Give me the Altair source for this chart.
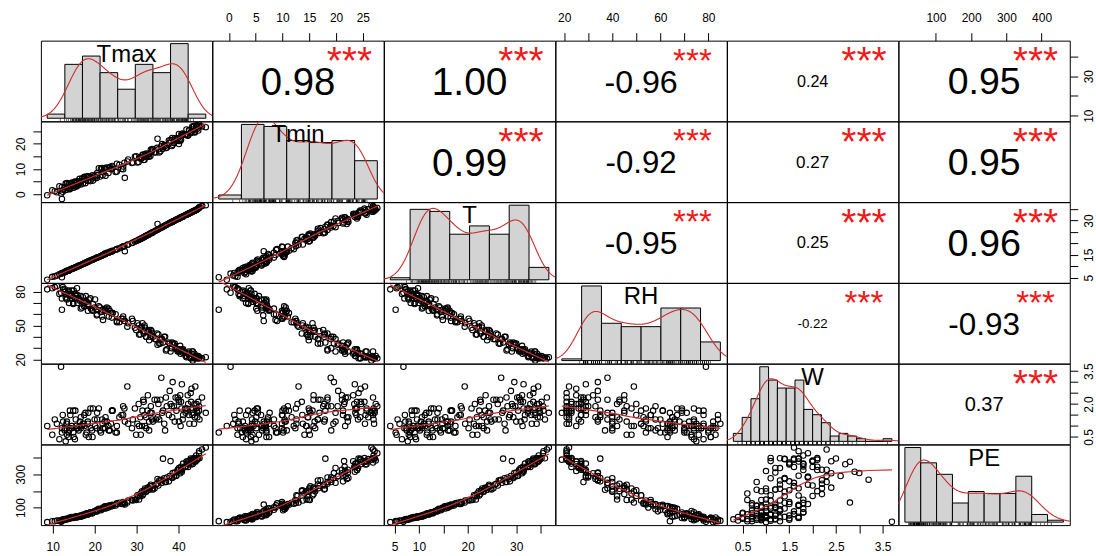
import json

import altair as alt
import numpy as np
import pandas as pd

VARS = ["Tmax", "Tmin", "T", "RH", "W", "PE"]

# Daily records, one list per month. Columns: Tmax, Tmin, T, RH, W, PE
january = [
    (8.7, -0.4, 4.1, 82, 1.0, 12), (12.2, -1.9, 5.2, 64, 0.7, 18), (10.5, 1.2, 5.6, 84, 1.3, 17),
    (12.0, 0.3, 6.8, 79, 3.7, 14), (12.2, 2.9, 7.0, 74, 0.9, 24), (12.9, 1.6, 7.4, 82, 0.9, 30),
    (13.1, 4.2, 7.7, 75, 0.3, 29), (13.3, 1.8, 8.0, 78, 1.1, 30), (13.9, 3.6, 8.3, 70, 0.8, 36),
    (14.2, 3.2, 8.6, 78, 1.5, 36), (14.6, 4.6, 8.9, 74, 1.0, 43), (15.0, 2.6, 9.2, 81, 0.5, 39),
    (15.4, 4.8, 9.5, 78, 1.7, 45), (15.8, 3.7, 9.8, 83, 0.9, 40), (16.5, 4.9, 10.4, 72, 1.2, 51),
]
february = [
    (12.5, 1.8, 7.2, 82, 1.2, 28), (13.4, 4.4, 7.9, 73, 0.6, 30), (14.0, 2.1, 8.4, 77, 0.9, 38),
    (14.5, 4.0, 8.8, 81, 0.9, 38), (14.9, 3.6, 9.1, 69, 1.7, 37), (15.3, 5.0, 9.4, 74, 0.4, 43),
    (15.6, 3.0, 9.7, 76, 1.0, 48), (15.9, 5.1, 9.9, 70, 0.9, 43), (16.2, 4.1, 10.2, 74, 0.8, 47),
    (16.7, 5.1, 10.6, 65, 1.4, 44), (17.2, 4.3, 11.0, 75, 1.1, 56), (17.6, 6.9, 11.3, 72, 1.0, 54),
    (18.1, 7.0, 11.7, 71, 0.7, 65), (18.5, 5.4, 12.1, 69, 1.6, 59), (19.1, 6.9, 12.6, 65, 0.9, 71),
    (19.6, 5.4, 13.0, 69, 1.8, 70), (20.6, 8.4, 13.8, 60, 1.3, 87),
]
march = [
    (17.0, 6.2, 10.8, 66, 1.0, 48), (17.8, 4.4, 11.5, 71, 1.6, 61), (18.6, 7.0, 12.2, 73, 0.5, 64),
    (19.4, 6.2, 12.8, 64, 0.8, 64), (20.0, 7.2, 13.3, 66, 1.3, 79), (20.5, 6.4, 13.7, 59, 0.9, 77),
    (21.0, 10.3, 14.1, 67, 1.8, 92), (21.5, 10.1, 14.5, 62, 0.7, 84), (21.9, 7.5, 14.8, 64, 1.1, 96),
    (22.0, 8.7, 14.9, 55, 0.9, 100), (22.6, 7.3, 15.4, 65, 1.4, 94), (23.4, 10.2, 16.0, 58, 0.8, 112),
    (24.3, 10.6, 16.7, 61, 1.7, 110), (25.3, 12.1, 17.5, 53, 1.0, 123), (26.4, 10.0, 18.3, 56, 1.5, 122),
    (27.2, 6.5, 16.6, 54, 1.2, 118),
]
april = [
    (26.8, 9.9, 18.6, 56, 1.5, 133), (27.8, 13.0, 19.4, 49, 2.8, 130), (28.9, 12.4, 20.2, 56, 0.9, 146),
    (29.6, 14.9, 20.8, 48, 1.8, 147), (30.2, 12.6, 21.3, 52, 1.1, 174), (30.6, 14.5, 21.7, 42, 1.0, 148),
    (31.0, 14.1, 22.0, 48, 0.6, 185), (31.4, 15.6, 22.4, 52, 1.7, 173), (31.7, 13.6, 22.7, 43, 2.1, 199),
    (32.0, 15.8, 23.0, 48, 1.0, 215), (32.3, 14.8, 23.3, 40, 1.4, 196), (32.7, 15.8, 23.7, 45, 2.4, 220),
    (33.0, 14.9, 24.0, 37, 0.8, 207), (33.4, 17.6, 24.4, 46, 1.9, 238), (33.9, 17.8, 24.9, 40, 1.2, 209),
]
may = [
    (33.6, 16.9, 24.6, 45, 1.6, 230), (34.3, 16.7, 25.3, 38, 2.2, 216), (34.9, 18.4, 25.9, 43, 2.2, 244),
    (35.4, 16.6, 26.4, 34, 1.3, 263), (35.9, 19.0, 26.9, 38, 3.2, 268), (36.3, 18.0, 27.3, 35, 1.7, 395),
    (36.8, 19.1, 27.8, 40, 0.8, 254), (37.2, 18.4, 28.2, 29, 1.9, 281), (37.7, 21.3, 28.7, 35, 1.5, 258),
    (38.1, 21.5, 29.1, 27, 2.0, 380), (38.6, 19.6, 29.6, 34, 3.0, 308), (39.3, 21.8, 30.2, 30, 2.3, 290),
    (40.1, 19.9, 30.9, 27, 1.2, 339), (40.7, 23.9, 31.5, 28, 1.8, 326), (41.7, 23.6, 32.4, 23, 1.6, 345),
]
june = [
    (38.9, 20.3, 29.8, 33, 1.9, 287), (39.8, 22.2, 30.6, 27, 2.3, 328), (40.4, 21.1, 31.2, 32, 2.4, 307),
    (41.0, 24.1, 31.7, 26, 1.3, 338), (13.8, 2.4, 8.1, 80, 0.7, 31), (41.9, 25.7, 32.5, 22, 1.7, 378),
    (42.3, 23.4, 32.9, 26, 2.0, 345), (42.6, 25.4, 33.2, 22, 1.1, 380), (43.1, 24.6, 33.6, 25, 2.7, 361),
    (43.4, 26.6, 33.9, 19, 1.6, 389), (43.8, 24.7, 34.3, 25, 2.0, 377), (44.2, 27.0, 34.6, 21, 1.8, 414),
    (44.5, 26.0, 34.9, 22, 1.4, 392), (44.9, 27.2, 35.6, 21, 1.7, 440),
]
july = [
    (40.6, 21.6, 31.4, 27, 2.1, 346), (22.4, 10.4, 15.6, 64, 1.2, 104), (42.0, 23.6, 32.6, 23, 1.8, 365),
    (23.6, 10.8, 16.3, 63, 0.8, 109), (42.9, 24.2, 33.5, 21, 2.5, 396), (43.3, 26.9, 33.8, 27, 1.5, 372),
    (43.7, 27.1, 34.2, 21, 1.1, 399), (44.0, 25.4, 34.5, 22, 2.8, 376), (44.4, 26.8, 34.8, 23, 1.7, 396),
    (44.7, 25.3, 35.2, 23, 2.1, 398), (44.9, 27.7, 35.5, 21, 1.9, 428), (45.0, 27.0, 35.9, 22, 1.3, 397),
    (45.6, 26.9, 36.3, 21, 2.3, 450), (46.5, 26.6, 36.7, 22, 1.6, 462),
]
august = [
    (38.5, 22.3, 29.4, 35, 1.4, 278), (40.0, 21.1, 30.8, 28, 2.2, 328), (40.8, 23.5, 31.5, 29, 2.9, 316),
    (24.2, 11.2, 16.8, 61, 1.7, 117), (22.9, 10.6, 15.9, 66, 1.2, 98), (42.2, 23.2, 32.8, 25, 2.4, 379),
    (42.5, 25.5, 33.1, 27, 1.5, 360), (43.0, 24.6, 33.5, 21, 2.1, 389), (43.4, 25.7, 33.9, 27, 1.8, 362),
    (43.9, 24.5, 34.4, 21, 1.4, 394), (44.3, 27.4, 34.7, 23, 2.0, 384), (44.5, 27.2, 34.9, 21, 1.6, 395),
]
september = [
    (34.6, 16.6, 25.6, 38, 1.3, 239), (35.2, 17.8, 26.2, 42, 2.0, 233), (35.7, 17.1, 26.7, 34, 2.2, 265),
    (36.1, 19.9, 27.1, 38, 1.6, 249), (36.6, 19.5, 27.6, 40, 1.1, 277), (37.0, 18.4, 28.0, 28, 2.3, 254),
    (35.0, 22.0, 28.5, 33, 1.4, 272), (37.9, 20.4, 28.9, 34, 2.6, 290), (38.4, 19.1, 29.3, 30, 1.9, 282),
    (39.1, 22.2, 30.0, 34, 1.2, 311), (39.5, 21.3, 30.4, 29, 1.7, 292), (40.1, 23.9, 30.9, 29, 2.1, 326),
    (40.5, 21.7, 31.3, 25, 1.0, 320), (41.1, 23.8, 31.8, 29, 1.5, 365), (41.6, 23.7, 32.3, 26, 1.8, 348),
]
october = [
    (23.9, 9.9, 16.4, 61, 1.1, 106), (25.3, 9.0, 17.5, 54, 0.7, 125), (27.1, 12.5, 18.8, 54, 1.8, 128),
    (29.1, 12.6, 20.4, 54, 1.3, 143), (29.9, 15.1, 21.0, 46, 0.6, 146), (30.5, 12.8, 21.5, 50, 2.0, 170),
    (30.9, 14.7, 21.9, 42, 1.4, 168), (31.3, 14.4, 22.3, 49, 1.0, 198), (31.6, 15.8, 22.6, 45, 2.2, 181),
    (31.9, 13.7, 22.9, 50, 1.5, 204), (32.3, 16.1, 23.3, 40, 0.9, 198), (32.6, 15.0, 23.6, 45, 1.7, 216),
    (33.0, 16.0, 24.0, 46, 1.2, 209), (33.3, 15.2, 24.3, 40, 1.6, 228), (33.7, 17.9, 24.7, 43, 1.3, 213),
]
november = [
    (16.7, 3.9, 10.6, 76, 0.9, 52), (17.5, 6.0, 11.2, 67, 1.5, 52), (17.9, 5.6, 11.6, 76, 0.6, 59),
    (18.4, 7.1, 12.0, 68, 1.2, 58), (19.0, 5.2, 12.5, 74, 1.8, 72), (19.5, 7.5, 12.9, 63, 0.5, 69),
    (20.1, 6.6, 13.4, 73, 1.0, 79), (20.6, 7.6, 13.8, 64, 1.6, 77), (21.3, 7.0, 14.3, 66, 0.8, 90),
    (21.8, 10.4, 14.7, 58, 1.3, 90), (22.5, 9.9, 15.3, 63, 0.9, 107), (23.3, 8.4, 15.9, 65, 1.0, 101),
    (24.1, 10.0, 16.5, 57, 1.7, 113), (25.0, 8.8, 17.2, 60, 0.7, 113), (25.9, 11.7, 17.9, 53, 1.4, 129),
    (26.8, 11.0, 18.6, 58, 1.9, 121), (28.0, 13.8, 19.5, 52, 1.1, 142),
]
december = [
    (9.9, 1.6, 5.4, 83, 0.6, 17), (11.0, 0.8, 6.0, 85, 1.1, 21), (11.6, 3.2, 6.5, 78, 0.4, 22),
    (12.4, 1.0, 7.1, 84, 1.5, 27), (12.9, 3.0, 7.5, 80, 0.8, 27), (13.4, 2.6, 7.9, 74, 1.2, 32),
    (13.8, 4.1, 8.2, 81, 0.5, 32), (14.1, 2.0, 8.5, 76, 1.7, 38), (14.5, 4.2, 8.8, 78, 1.0, 37),
    (14.9, 3.2, 9.1, 70, 0.7, 41), (15.5, 4.3, 9.6, 74, 1.3, 41), (15.9, 3.4, 9.9, 77, 0.9, 46),
    (16.4, 6.1, 10.3, 73, 1.0, 46), (17.4, 6.6, 11.1, 70, 1.1, 57), (18.4, 5.3, 12.0, 63, 1.1, 60),
]
months = [january, february, march, april, may, june, july, august,
          september, october, november, december]

# Pearson r shown in the upper panels (row by row) and their significance codes
cor_values = [0.98, 1.00, -0.96, 0.24, 0.95,
              0.99, -0.92, 0.27, 0.95,
              -0.95, 0.25, 0.96,
              -0.22, -0.93,
              0.37]
cor_stars = ["***"] * 15

# Histogram breaks: (first, last, step)
hist_breaks = {"Tmax": (5, 50, 5), "Tmin": (-5, 30, 5), "T": (0, 40, 5),
               "RH": (10, 90, 10), "W": (0.2, 3.8, 0.2), "PE": (0, 500, 50)}

# Axis ticks, and which of them carry a label on horizontal / vertical axes
axis_ticks = {"Tmax": [10, 20, 30, 40], "Tmin": [0, 5, 10, 15, 20, 25],
              "T": [5, 10, 15, 20, 25, 30, 35], "RH": [20, 30, 40, 50, 60, 70, 80, 90],
              "W": [0.5, 1.0, 1.5, 2.0, 2.5, 3.0, 3.5], "PE": [100, 200, 300, 400]}
labels_horizontal = {"Tmax": [10, 20, 30, 40], "Tmin": [0, 5, 10, 15, 20, 25],
                     "T": [5, 10, 20, 30], "RH": [20, 40, 60, 80],
                     "W": [0.5, 1.5, 2.5, 3.5], "PE": [100, 200, 300, 400]}
labels_vertical = {"Tmax": [10, 30], "Tmin": [0, 10, 20], "T": [5, 15, 30],
                   "RH": [20, 50, 80], "W": [0.5, 2.0, 3.5], "PE": [100, 300]}

FONT = "Liberation Sans"
PANEL_W = 171.7
PANEL_H = 80.8
LINE_RED = "#cc2e2e"
STAR_RED = "#ee1c1c"
POINT_SIZE = 30
COR_FONT = 39  # font size of a correlation of magnitude 1

df = pd.DataFrame([row for m in months for row in m], columns=VARS)


def padded(lo, hi, frac=0.04):
    d = hi - lo
    return [float(lo - frac * d), float(hi + frac * d)]


dom = {v: padded(df[v].min(), df[v].max()) for v in VARS}


def lowess(x, y, f=2 / 3, iters=3):
    """Locally weighted regression with robustness iterations (Cleveland, 1979)."""
    order = np.argsort(x, kind="mergesort")
    x = np.asarray(x, dtype=float)[order]
    y = np.asarray(y, dtype=float)[order]
    n = len(x)
    ns = max(min(int(f * n + 1e-7), n), 2)
    fit = np.zeros(n)
    rw = np.ones(n)
    span = float(np.ptp(x))
    for it in range(iters + 1):
        for i in range(n):
            d = np.abs(x - x[i])
            h = np.sort(d)[ns - 1]
            u = d / h if h > 0 else np.zeros(n)
            w = np.where(u < 1, (1 - u ** 3) ** 3, 0.0) * rw
            sw = w.sum()
            xm = (w * x).sum() / sw
            ym = (w * y).sum() / sw
            sxx = (w * (x - xm) ** 2).sum()
            slope = (w * (x - xm) * (y - ym)).sum() / sxx if sxx > 1e-12 * (span ** 2 + 1) else 0.0
            fit[i] = ym + slope * (x[i] - xm)
        if it < iters:
            res = y - fit
            cmad = 6 * np.median(np.abs(res))
            if cmad < 1e-7 * np.mean(np.abs(y)):
                break
            r = np.abs(res / cmad)
            rw = np.where(r < 1, (1 - r ** 2) ** 2, 0.0)
    return x, fit


def make_axis(v, orient):
    horizontal = orient in ("top", "bottom")
    shown = labels_horizontal[v] if horizontal else labels_vertical[v]
    kw = dict(orient=orient, values=axis_ticks[v], title=None,
              format=".1f" if v == "W" else "d",
              labelExpr="indexof(%s, datum.value) >= 0 ? datum.label : ''" % json.dumps(shown),
              tickSize=8, grid=False, domain=False, labelFlush=False, labelOverlap=False)
    if orient == "top":
        kw.update(labelPadding=8)
    elif orient == "bottom":
        kw.update(labelPadding=8)
    elif orient == "left":
        kw.update(labelAngle=270, labelAlign="center", labelBaseline="bottom", labelPadding=5)
    else:
        kw.update(labelAngle=270, labelAlign="center", labelBaseline="top", labelPadding=6)
    return alt.Axis(**kw)


def enc_x(field, domain, axis):
    return alt.X(field, type="quantitative", scale=alt.Scale(domain=domain, nice=False, zero=False),
                 axis=axis)


def enc_y(field, domain, axis):
    return alt.Y(field, type="quantitative", scale=alt.Scale(domain=domain, nice=False, zero=False),
                 axis=axis)


def scatter_panel(i, j, xaxis, yaxis):
    vi, vj = VARS[i], VARS[j]
    x = enc_x(vj, dom[vj], xaxis)
    y = enc_y(vi, dom[vi], yaxis)
    sx, sy = lowess(df[vj].to_numpy(), df[vi].to_numpy())
    smooth_df = pd.DataFrame({vj: sx, vi: sy})
    pts = alt.Chart(df).mark_point(shape="circle", filled=False, color="black", opacity=1,
                                   size=POINT_SIZE, strokeWidth=1.1, clip=True).encode(x=x, y=y)
    smooth = alt.Chart(smooth_df).mark_line(color=LINE_RED, strokeWidth=1.2, clip=True).encode(
        x=x, y=y)
    return alt.layer(pts, smooth).properties(width=PANEL_W, height=PANEL_H)


ADV = {"0": 0.556, "1": 0.556, "2": 0.556, "3": 0.556, "4": 0.556, "5": 0.556,
       "6": 0.556, "7": 0.556, "8": 0.556, "9": 0.556, ".": 0.278, "-": 0.333}


def text_width(s):
    return sum(ADV[c] for c in s)


def cor_panel(i, j, r, stars, xaxis, yaxis):
    vi, vj = VARS[i], VARS[j]
    (x0, x1), (y0, y1) = dom[vj], dom[vi]
    txt = f"{r:.2f}"
    cex = COR_FONT * text_width("0.00") / text_width(txt)
    fs = cex * (abs(r) + 0.3) / 1.3
    x = enc_x(vj, dom[vj], xaxis)
    y = enc_y(vi, dom[vi], yaxis)
    num_df = pd.DataFrame({vj: [x0 + 0.5 * (x1 - x0)], vi: [y0 + 0.5 * (y1 - y0)], "label": [txt]})
    star_df = pd.DataFrame({vj: [x0 + 0.8 * (x1 - x0)], vi: [y0 + 0.8 * (y1 - y0)], "label": [stars]})
    num = alt.Chart(num_df).mark_text(font=FONT, fontSize=fs, color="black", align="center",
                                      baseline="alphabetic", dy=0.36 * fs).encode(
        x=x, y=y, text="label:N")
    st = alt.Chart(star_df).mark_text(font=FONT, fontSize=cex, color=STAR_RED, align="center",
                                      baseline="alphabetic", dy=0.42 * cex + 1).encode(
        x=x, y=y, text="label:N")
    return alt.layer(num, st).properties(width=PANEL_W, height=PANEL_H)


def diag_panel(k):
    v = VARS[k]
    b0, b1, step = hist_breaks[v]
    edges = np.round(np.arange(b0, b1 + step / 2, step), 6)
    vals = df[v].to_numpy(dtype=float)
    idx = np.clip(np.searchsorted(edges, vals, side="left") - 1, 0, len(edges) - 2)
    counts = np.bincount(idx, minlength=len(edges) - 1)
    top = float(counts.max())
    xd = padded(b0, b1)
    yd = [-0.04 * top, 1.04 * top]
    hist = pd.DataFrame({"x0": edges[:-1], "x1": edges[1:], "n": counts, "base": 0})

    n = len(vals)
    sd = vals.std(ddof=1)
    q75, q25 = np.percentile(vals, [75, 25])
    bw = 0.9 * min(sd, (q75 - q25) / 1.34) * n ** -0.2
    grid = np.linspace(vals.min() - 3 * bw, vals.max() + 3 * bw, 512)
    dens = np.exp(-0.5 * ((grid[:, None] - vals[None, :]) / bw) ** 2).sum(axis=1) / (
        n * bw * np.sqrt(2 * np.pi))
    dens_df = pd.DataFrame({"x": grid, "n": dens * n * step})

    rug_df = pd.DataFrame({"x": vals, "y0": yd[0], "y1": yd[0] + 0.03 * (yd[1] - yd[0])})
    lab_df = pd.DataFrame({"x": [0.5 * (xd[0] + xd[1])],
                           "n": [yd[1] - (12.5 / PANEL_H) * (yd[1] - yd[0])], "label": [v]})

    bars = alt.Chart(hist).mark_bar(fill="#d3d3d3", stroke="black", strokeWidth=1).encode(
        x=enc_x("x0", xd, None), x2="x1", y=enc_y("n", yd, None), y2="base")
    line = alt.Chart(dens_df).mark_line(color=LINE_RED, strokeWidth=1.1, clip=True).encode(
        x=enc_x("x", xd, None), y=enc_y("n", yd, None))
    rug = alt.Chart(rug_df).mark_rule(color="black", strokeWidth=0.6).encode(
        x=enc_x("x", xd, None), y=enc_y("y0", yd, None), y2="y1")
    lab = alt.Chart(lab_df).mark_text(font=FONT, fontSize=24, color="black", align="center",
                                      baseline="alphabetic", dy=0.358 * 24).encode(
        x=enc_x("x", xd, None), y=enc_y("n", yd, None), text="label:N")
    return alt.layer(bars, line, rug, lab).properties(width=PANEL_W, height=PANEL_H)


panels = []
cor_iter = iter(zip(cor_values, cor_stars))
cells = {}
for i in range(6):
    for j in range(i + 1, 6):
        cells[(i, j)] = next(cor_iter)

for i in range(6):
    for j in range(6):
        xaxis = None
        yaxis = None
        if i == 0 and j % 2 == 1:
            xaxis = make_axis(VARS[j], "top")
        elif i == 5 and j % 2 == 0:
            xaxis = make_axis(VARS[j], "bottom")
        if j == 0 and i % 2 == 1:
            yaxis = make_axis(VARS[i], "left")
        elif j == 5 and i % 2 == 0:
            yaxis = make_axis(VARS[i], "right")
        if i == j:
            panels.append(diag_panel(i))
        elif i > j:
            panels.append(scatter_panel(i, j, xaxis, yaxis))
        else:
            r, s = cells[(i, j)]
            panels.append(cor_panel(i, j, r, s, xaxis, yaxis))

chart = (
    alt.concat(*panels, columns=6, spacing=0, bounds="flush")
    .properties(padding={"left": 14, "top": 10, "right": 0, "bottom": 0}, background="white")
    .configure_view(stroke="black", strokeWidth=1)
    .configure_axis(labelFont=FONT, labelFontSize=12, labelColor="black", tickColor="black",
                    tickWidth=1)
)

chart.save("out.html", embed_options={"renderer": "svg", "actions": False})
